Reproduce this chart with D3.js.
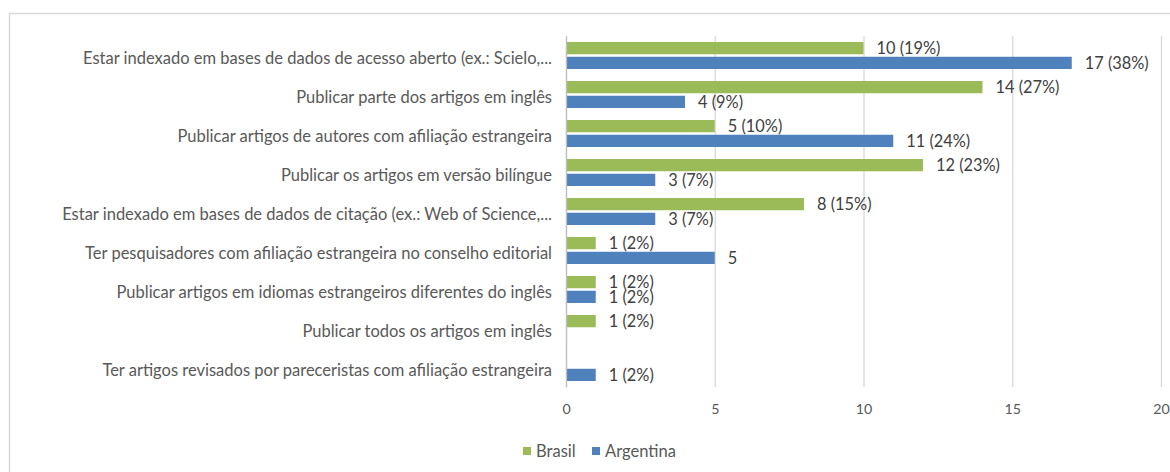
<!DOCTYPE html>
<html><head><meta charset="utf-8">
<script src="https://cdn.jsdelivr.net/npm/d3@7"></script>
<style>
html,body{margin:0;padding:0;background:#fff;}
svg{display:block;}
text{font-family:Lato,"Open Sans",sans-serif;}
</style></head>
<body>
<svg id="c" width="1170" height="472"></svg>
<script>
const categories = [
  "Estar indexado em bases de dados de acesso aberto (ex.: Scielo,...",
  "Publicar parte dos artigos em inglês",
  "Publicar artigos de autores com afiliação estrangeira",
  "Publicar os artigos em versão bilíngue",
  "Estar indexado em bases de dados de citação (ex.: Web of Science,...",
  "Ter pesquisadores com afiliação estrangeira no conselho editorial",
  "Publicar artigos em idiomas estrangeiros diferentes do inglês",
  "Publicar todos os artigos em inglês",
  "Ter artigos revisados por pareceristas com afiliação estrangeira"
];
const seriesNames = ["Brasil", "Argentina"];
const brasil = [10, 14, 5, 12, 8, 1, 1, 1, null];
const argentina = [17, 4, 11, 3, 3, 5, 1, null, 1];
const brasilLabels = ["10 (19%)", "14 (27%)", "5 (10%)", "12 (23%)", "8 (15%)", "1 (2%)", "1 (2%)", "1 (2%)", ""];
const argentinaLabels = ["17 (38%)", "4 (9%)", "11 (24%)", "3 (7%)", "3 (7%)", "5", "1 (2%)", "", "1 (2%)"];
const xTicks = [0, 5, 10, 15, 20];
const colors = ["#9bbb59", "#4f81bd"];

const svg = d3.select("#c");

// measure helper: font size giving target width for a sample string
function fitSize(sample, target) {
  const t = svg.append("text").style("font-size", "20px").text(sample);
  const w = t.node().getComputedTextLength();
  t.remove();
  return 20 * target / w;
}
const catFs = fitSize(categories[4], 490);
const valFs = fitSize("17 (38%)", 64);
const legFs = fitSize("Argentina", 71);
const tickFs = fitSize("10", 16.5);

// chart border
svg.append("rect").attr("x", 9.5).attr("y", 13.5).attr("width", 1200).attr("height", 500)
  .attr("fill", "none").attr("stroke", "#d9d9d9").attr("stroke-width", 1.5);

const x = d3.scaleLinear().domain([0, 20]).range([566, 1161]);
const y = d3.scaleBand().domain(categories).range([36, 387]);
const inner = d3.scaleBand().domain(seriesNames).range([6, 33]).paddingInner(0.17);

// gridlines
const grid = svg.append("g").attr("transform", "translate(0,387)")
  .call(d3.axisBottom(x).tickValues(xTicks).tickSize(-351).tickFormat(""));
grid.select(".domain").remove();
grid.selectAll(".tick line").attr("stroke", "#d9d9d9").attr("stroke-width", 1.3);

// x tick labels
const xa = svg.append("g").attr("transform", "translate(0,387)")
  .call(d3.axisBottom(x).tickValues(xTicks).tickSize(0).tickPadding(17));
xa.select(".domain").remove();
xa.selectAll("text").attr("fill", "#595959").style("font-size", tickFs + "px").style("font-family", "Lato");

// bars
const rows = categories.map((c, i) => ({c, vals: [brasil[i], argentina[i]], labs: [brasilLabels[i], argentinaLabels[i]]}));
const g = svg.append("g");
rows.forEach(r => {
  r.vals.forEach((v, k) => {
    if (v == null) return;
    const by = y(r.c) + inner(seriesNames[k]);
    g.append("rect").attr("x", x(0)).attr("y", by).attr("width", x(v) - x(0)).attr("height", inner.bandwidth())
      .attr("fill", colors[k]);
    g.append("text").attr("x", x(v) + 13).attr("y", by + inner.bandwidth() / 2 + 0.5)
      .attr("dy", "0.35em").attr("fill", "#404040").style("font-size", valFs + "px").text(r.labs[k]);
  });
});

// y axis
const ya = svg.append("g").attr("transform", "translate(566,0)")
  .call(d3.axisLeft(y).tickSize(0).tickPadding(14));
ya.select(".domain").attr("stroke", "#bfbfbf").attr("stroke-width", 1.3);
ya.selectAll("text").attr("fill", "#595959").attr("y", 3).style("font-size", catFs + "px");

// legend
const leg = svg.append("g");
const legX = [523, 592];
seriesNames.forEach((s, k) => {
  leg.append("rect").attr("x", legX[k]).attr("y", 447).attr("width", 8).attr("height", 8).attr("fill", colors[k]);
  leg.append("text").attr("x", legX[k] + 13).attr("y", 451).attr("dy", "0.35em")
    .attr("fill", "#595959").style("font-size", legFs + "px").text(s);
});
</script>
</body></html>
